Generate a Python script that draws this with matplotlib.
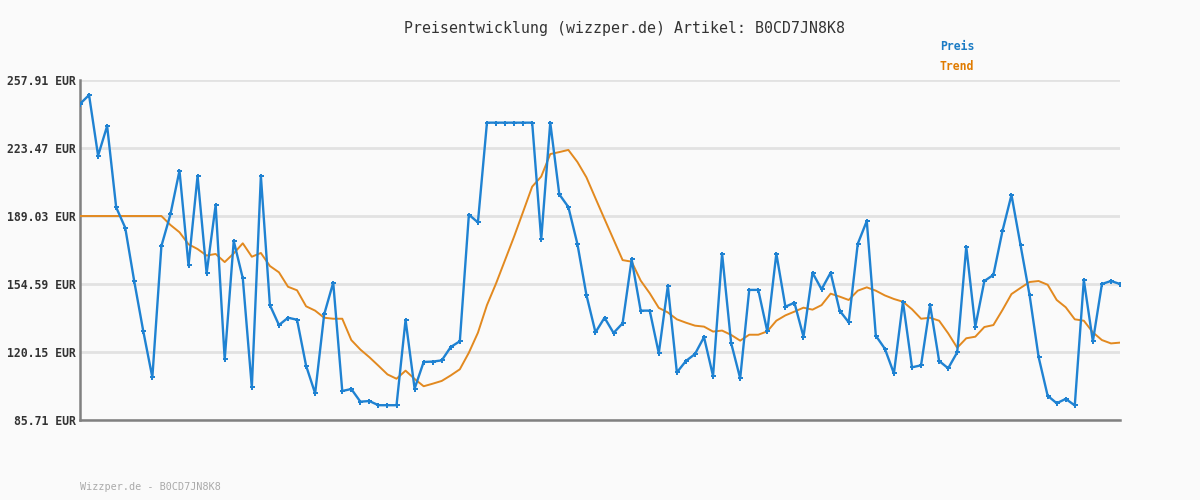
import matplotlib
matplotlib.use("Agg")
import matplotlib.pyplot as plt

# Preisverlauf (blau) und Trend (orange)
preis = [245.8, 250.3, 219.6, 234.6, 193.4, 183.1, 155.9, 130.6, 107.3, 173.8,
         189.9, 212.0, 164.0, 209.3, 160.0, 194.6, 116.4, 176.4, 157.5, 102.2,
         209.3, 143.9, 133.8, 137.5, 136.5, 113.2, 99.2, 139.2, 155.3, 100.4,
         101.4, 95.0, 95.3, 93.2, 93.2, 93.2, 136.4, 101.6, 115.1, 115.3,
         115.9, 122.7, 125.6, 189.7, 185.8, 236.3, 236.3, 236.3, 236.3, 236.3,
         236.3, 177.2, 236.3, 200.0, 193.6, 174.9, 149.0, 130.1, 137.5, 129.8,
         134.7, 167.1, 141.1, 141.1, 119.5, 153.6, 109.8, 115.6, 119.1, 127.7,
         108.0, 170.0, 124.7, 106.8, 151.6, 151.6, 130.6, 170.0, 143.1, 145.1,
         127.9, 160.3, 151.9, 160.3, 141.1, 135.2, 174.9, 186.5, 128.4, 121.8,
         109.3, 145.6, 112.4, 113.4, 143.9, 115.6, 111.9, 120.0, 173.5, 133.0,
         156.1, 159.2, 181.4, 199.7, 174.3, 149.0, 117.6, 98.0, 94.2, 96.4,
         93.1, 156.6, 125.5, 154.6, 156.1, 154.6]

trend = [189.03, 189.03, 189.03, 189.03, 189.03, 189.03, 189.03, 189.03, 189.03, 189.03,
         184.5, 180.8, 174.7, 172.3, 169.0, 169.8, 165.7, 170.1, 175.2, 168.4,
         170.3, 163.7, 160.5, 153.2, 151.4, 143.3, 141.1, 137.5, 137.0, 137.0,
         126.2, 121.4, 117.5, 113.2, 108.8, 106.6, 110.7, 106.5, 102.8, 104.1,
         105.5, 108.3, 111.4, 119.8, 129.9, 143.9, 154.8, 166.7, 178.6, 191.2,
         203.9, 209.0, 220.4, 221.4, 222.5, 216.4, 208.6, 198.0, 187.5, 177.1,
         166.7, 165.9, 156.3, 149.9, 142.5, 140.2, 136.7, 135.0, 133.5, 133.0,
         130.5, 131.0, 128.8, 125.9, 128.9, 128.9, 130.6, 136.0, 138.7, 140.6,
         142.6, 141.6, 143.9, 149.7, 148.2, 146.5, 151.2, 152.9, 151.2, 148.8,
         147.0, 145.6, 141.8, 137.0, 137.5, 136.0, 129.6, 122.3, 127.1, 127.9,
         132.8, 133.8, 141.4, 149.5, 152.6, 155.6, 156.1, 154.2, 146.5, 142.8,
         136.7, 136.0, 130.1, 126.2, 124.5, 124.9]

y_ticks = [85.71, 120.15, 154.59, 189.03, 223.47, 257.91]

blau = "#1f82d2"
orange = "#e2891f"
mono = "DejaVu Sans Mono"

fig = plt.figure(figsize=(12, 5), dpi=100, facecolor="#fafafa")
ax = fig.add_axes([80 / 1200, 80 / 500, 1040 / 1200, 340 / 500])
ax.set_facecolor("#fafafa")

x = list(range(len(preis)))
ax.plot(x, trend, color=orange, lw=1.4, zorder=3)
ax.plot(x, preis, color=blau, lw=1.7, marker="P", ms=3.6, mew=0, zorder=4)

ax.set_xlim(0, len(preis) - 1)
ax.set_ylim(y_ticks[0], y_ticks[-1])
ax.set_yticks(y_ticks)
ax.set_yticklabels([f"{v:.2f} EUR" for v in y_ticks], fontfamily=mono,
                   fontsize=8.3, fontweight="bold", color="#333333")
ax.set_xticks([])
ax.tick_params(axis="y", length=0, pad=3)
ax.grid(axis="y", color="#e2e2e2", lw=2, zorder=0)

for s in ["top", "right"]:
    ax.spines[s].set_visible(False)
for s in ["left", "bottom"]:
    ax.spines[s].set_color("#808080")
    ax.spines[s].set_linewidth(1.8)

fig.text(0.52, 1 - 28 / 500, "Preisentwicklung (wizzper.de) Artikel: B0CD7JN8K8",
         ha="center", va="center", fontfamily=mono, fontsize=10.7, color="#333333")
fig.text(940 / 1200, 1 - 47 / 500, "Preis", ha="left", va="center",
         fontfamily=mono, fontsize=8.3, fontweight="bold", color="#1a7bc4")
fig.text(940 / 1200, 1 - 67 / 500, "Trend", ha="left", va="center",
         fontfamily=mono, fontsize=8.3, fontweight="bold", color="#e07b00")
fig.text(80 / 1200, 1 - 487 / 500, "Wizzper.de - B0CD7JN8K8", ha="left", va="center",
         fontfamily=mono, fontsize=7.3, color="#aaaaaa")

fig.savefig("out.png", dpi=100, facecolor=fig.get_facecolor())
